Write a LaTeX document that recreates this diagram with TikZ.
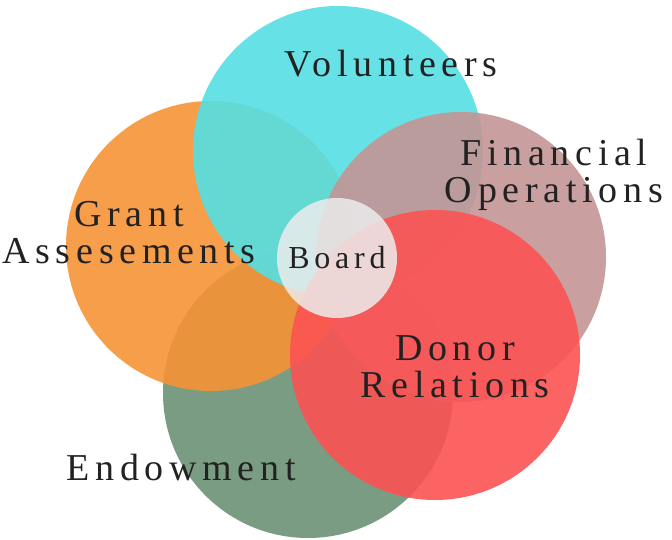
\documentclass[tikz,border=0pt]{standalone}
\usepackage{fontspec}
\setmainfont{Liberation Serif}[LetterSpace=15]
\definecolor{cvol}{RGB}{85,223,227}
\definecolor{cgra}{RGB}{246,147,54}
\definecolor{cfin}{RGB}{195,149,149}
\definecolor{cdon}{RGB}{252,83,83}
\definecolor{cend}{RGB}{108,145,116}
\definecolor{cboa}{RGB}{236,236,236}
\definecolor{ctxt}{RGB}{34,34,34}
\begin{document}
\begin{tikzpicture}[x=1pt,y=-1pt,
  blob/.style={circle,minimum size=290pt,inner sep=0pt,fill opacity=0.9},
  lbl/.style={text=ctxt,align=center,inner sep=0pt,font=\fontsize{38}{37}\selectfont},
  bl/.style={text=ctxt,inner sep=0pt,font=\fontsize{32}{32}\selectfont}]
\useasboundingbox (0,0) rectangle (672,540);
\node[blob,fill=cend] (end) at (308,393) {};
\node[blob,fill=cgra] (gra) at (211,246) {};
\node[blob,fill=cvol] (vol) at (338,151) {};
\node[blob,fill=cfin] (fin) at (461,257) {};
\node[blob,fill=cdon] (don) at (435,355) {};
\node[circle,minimum size=120pt,inner sep=0pt,fill=cboa,fill opacity=0.85] (boa) at (337,258) {};
\node[lbl,anchor=base] (tvol) at (391,77) {Volunteers};
\node[lbl,anchor=base] (tgra) at (129,263) {Grant\\Assesements};
\node[lbl,anchor=base] (tfin) at (554,203) {Financial\\Operations};
\node[lbl,anchor=base] (tdon) at (455,397) {Donor\\Relations};
\node[lbl,anchor=base] (tend) at (181,480) {Endowment};
\node[bl,anchor=base] (tboa) at (337,268) {Board};
\end{tikzpicture}
\end{document}
